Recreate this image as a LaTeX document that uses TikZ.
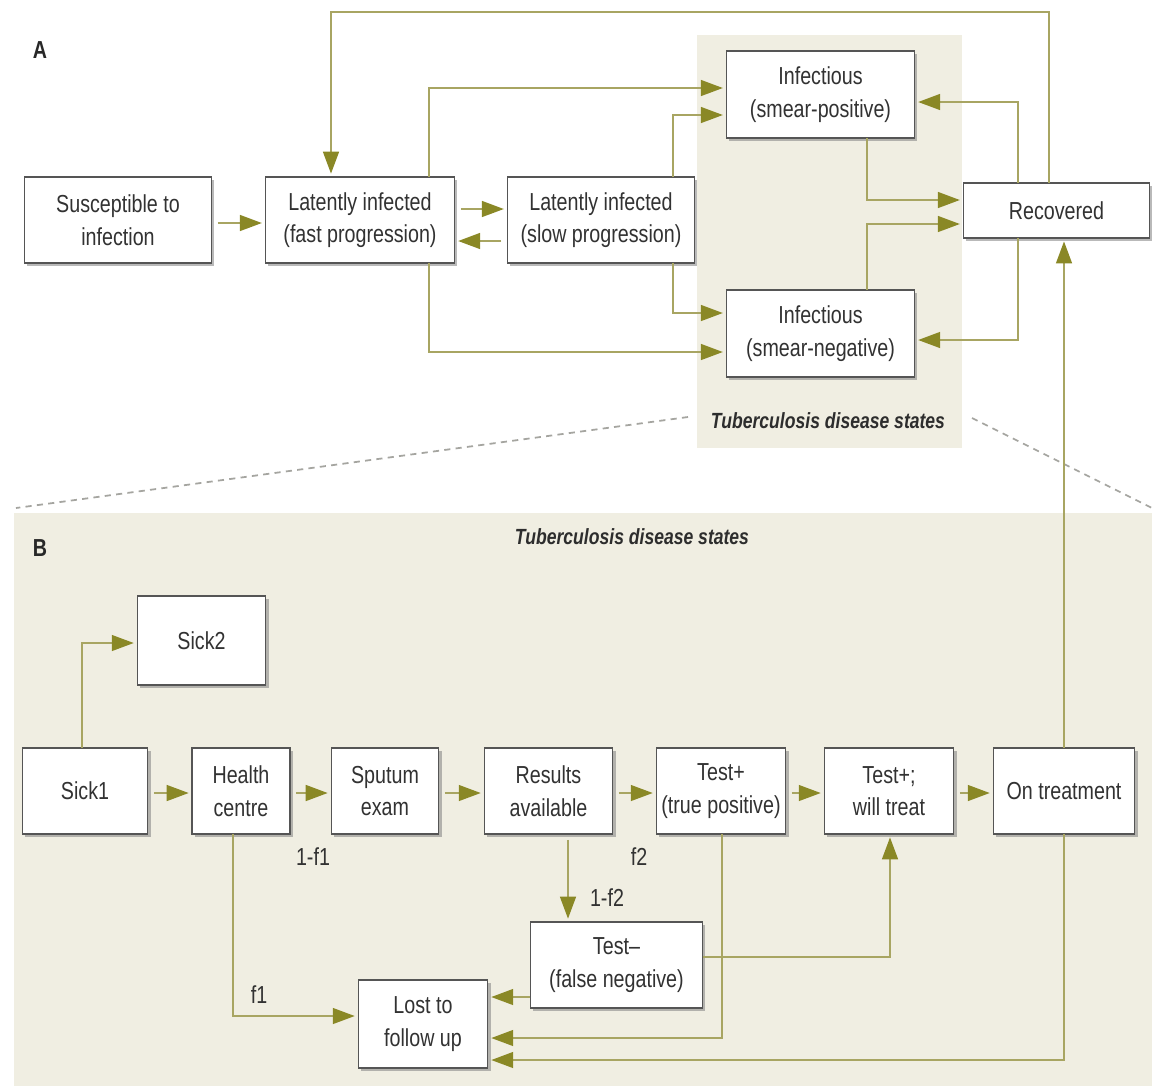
\documentclass[tikz,border=0pt]{standalone}
\usepackage{fontspec}
\setmainfont{Liberation Sans}[FakeStretch=0.8]
\usetikzlibrary{arrows.meta,shadows}
\definecolor{panel}{RGB}{240,238,226}
\definecolor{lineol}{RGB}{168,165,98}
\definecolor{tipol}{RGB}{138,136,38}
\definecolor{boxgray}{RGB}{85,85,85}
\definecolor{txt}{RGB}{50,50,50}
\definecolor{dashgray}{RGB}{165,165,160}
\tikzset{
  box/.style={draw=boxgray, line width=0.8pt, fill=white, inner sep=0pt, outer sep=0pt,
    align=center, text=txt, font=\fontsize{14}{18.5}\selectfont,
    drop shadow={shadow xshift=1.6pt, shadow yshift=-1.6pt, fill=black!50, opacity=0.55}},
  conn/.style={draw=lineol, line width=1.1pt, -{Triangle[length=12.5pt,width=9pt,color=tipol]}, shorten >=2pt},
  gapconn/.style={conn, shorten <=3.5pt},
  lbl/.style={text=txt, font=\fontsize{14}{16}\selectfont, inner sep=0pt},
  panellbl/.style={text=txt!90!black, font=\fontsize{12.5}{15}\selectfont\bfseries\itshape, inner sep=0pt},
  letter/.style={text=txt!80!black, font=\fontsize{14}{16}\selectfont\bfseries, inner sep=0pt},
  dashline/.style={draw=dashgray, line width=1pt, dash pattern=on 3.5pt off 3pt}
}
\newcommand\bx[6]{\node[box, minimum width={(#4-#2)*0.5669pt}, minimum height={(#5-#3)*0.5669pt}] (#1) at ({(#2+#4)/2},{(#3+#5)/2}) {#6};}
\begin{document}
\begin{tikzpicture}[x=0.02cm, y=-0.02cm]
\useasboundingbox (0,0) rectangle (1152,1086);
\fill[white] (0,0) rectangle (1152,1086);
% panels
\fill[panel] (697,35) rectangle (962,448);
\fill[panel] (14,513) rectangle (1152,1086);
% dashed zoom lines
\coordinate (dl1) at (688,417);
\coordinate (dl2) at (16,508);
\coordinate (dr1) at (972,418);
\coordinate (dr2) at (1152,508);
\draw[dashline] (dl1) -- (dl2);
\draw[dashline] (dr1) -- (dr2);

% ---------- A ----------
\node[letter] (labA) at (40,50) {A};
\node[panellbl] (tbA) at (828,421) {Tuberculosis disease states};
\bx{sus}{24}{177}{212}{263}{Susceptible to\\infection}
\bx{fast}{265}{177}{455}{263}{Latently infected\\(fast progression)}
\bx{slow}{507}{177}{695}{263}{Latently infected\\(slow progression)}
\bx{pos}{726}{51}{915}{138}{Infectious\\(smear-positive)}
\bx{neg}{726}{290}{915}{377}{Infectious\\(smear-negative)}
\bx{rec}{963}{183}{1150}{238}{Recovered}

\draw[gapconn] (sus.east |- 0,223) -- (fast.west |- 0,223);
\draw[gapconn] (fast.east |- 0,209) -- (slow.west |- 0,209);
\draw[gapconn] (slow.west |- 0,241) -- (fast.east |- 0,241);
\draw[conn] (fast.north -| 429,0) |- (pos.west |- 0,88);
\draw[conn] (fast.south -| 429,0) |- (neg.west |- 0,352);
\draw[conn] (slow.north -| 673,0) |- (pos.west |- 0,115);
\draw[conn] (slow.south -| 673,0) |- (neg.west |- 0,313);
\draw[conn] (pos.south -| 867,0) |- (rec.west |- 0,200);
\draw[conn] (neg.north -| 867,0) |- (rec.west |- 0,224);
\draw[conn] (rec.north -| 1018,0) |- (pos.east |- 0,102);
\draw[conn] (rec.south -| 1018,0) |- (neg.east |- 0,340);
\draw[conn] (rec.north -| 1049,0) -- (1049,12) -| (fast.north -| 331,0);

% ---------- B ----------
\node[letter] (labB) at (40,548) {B};
\node[panellbl] (tbB) at (632,537) {Tuberculosis disease states};
\bx{sick2}{137}{596}{266}{685}{Sick2}
\bx{sick1}{22}{748}{148}{834}{Sick1}
\bx{hc}{192}{748}{290}{834}{Health\\centre}
\bx{sput}{331}{748}{439}{834}{Sputum\\exam}
\bx{res}{484}{748}{613}{834}{Results\\available}
\bx{tpos}{656}{748}{786}{834}{Test+\\(true positive)}
\bx{will}{824}{748}{954}{834}{Test+;\\will treat}
\bx{ont}{993}{748}{1135}{834}{On treatment}
\bx{tneg}{530}{922}{703}{1008}{Test–\\(false negative)}
\bx{lost}{358}{980}{488}{1068}{Lost to\\follow up}

\draw[conn] (sick1.north -| 82,0) |- (sick2.west |- 0,643);
\draw[gapconn] (sick1.east |- 0,793) -- (hc.west |- 0,793);
\draw[gapconn] (hc.east |- 0,793) -- (sput.west |- 0,793);
\draw[gapconn] (sput.east |- 0,793) -- (res.west |- 0,793);
\draw[gapconn] (res.east |- 0,793) -- (tpos.west |- 0,793);
\draw[gapconn] (tpos.east |- 0,793) -- (will.west |- 0,793);
\draw[gapconn] (will.east |- 0,793) -- (ont.west |- 0,793);
\draw[conn] (hc.south -| 233,0) |- (lost.west |- 0,1016);
\draw[gapconn] (res.south -| 568,0) -- (tneg.north -| 568,0);
\draw[conn] (tneg.west |- 0,997) -- (lost.east |- 0,997);
\draw[conn] (tneg.east |- 0,957) -| (will.south -| 890,0);
\draw[conn] (tpos.south -| 722,0) |- (lost.east |- 0,1038);
\draw[conn] (ont.south -| 1064,0) |- (lost.east |- 0,1060);
\draw[conn] (ont.north -| 1064,0) -- (rec.south -| 1064,0);

\node[lbl] (f1) at (259,995) {f1};
\node[lbl] (omf1) at (313,857) {1-f1};
\node[lbl] (f2) at (639,857) {f2};
\node[lbl] (omf2) at (607,898) {1-f2};
\end{tikzpicture}
\end{document}
